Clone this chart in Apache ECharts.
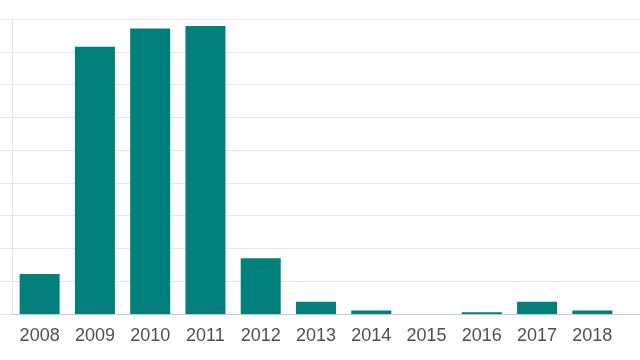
<!DOCTYPE html>
<html>
<head>
<meta charset="utf-8">
<script src="https://cdn.jsdelivr.net/npm/echarts@6/dist/echarts.min.js"></script>
<style>html,body{margin:0;padding:0;background:#fff}#c{width:640px;height:360px}</style>
</head>
<body>
<div id="c"></div>
<script>
const years = ['2008','2009','2010','2011','2012','2013','2014','2015','2016','2017','2018'];
const values = [12.2, 81.5, 87.1, 87.9, 17.0, 3.7, 1.1, 0, 0.5, 3.7, 1.1];
const yMax = 90;
const yStep = 10;

const chart = echarts.init(document.getElementById('c'), null, {renderer: 'canvas'});
const gridLine = {show: true, lineStyle: {color: '#e6e6e6', width: 1}};
chart.setOption({
  animation: false,
  backgroundColor: '#ffffff',
  grid: [
    {left: 12, right: 20, top: 19, bottom: 46},
    {left: 620, right: 0, top: 19, bottom: 46}
  ],
  xAxis: [
    {
      type: 'category', data: years, gridIndex: 0,
      axisLine: {show: true, lineStyle: {color: '#c8c8c8', width: 1}},
      axisTick: {show: false},
      axisLabel: {color: '#505050', fontSize: 18, fontFamily: 'Liberation Sans, Arial, sans-serif', margin: 13, interval: 0}
    },
    {
      type: 'category', data: [''], gridIndex: 1,
      axisLine: {show: true, lineStyle: {color: '#c8c8c8', width: 1}},
      axisTick: {show: false}, axisLabel: {show: false}
    }
  ],
  yAxis: [
    {
      type: 'value', min: 0, max: yMax, interval: yStep, gridIndex: 0,
      axisLine: {show: true, lineStyle: {color: '#e6e6e6', width: 1}},
      axisTick: {show: true, length: 12, lineStyle: {color: '#e6e6e6', width: 1}},
      axisLabel: {show: false},
      splitLine: gridLine
    },
    {
      type: 'value', min: 0, max: yMax, interval: yStep, gridIndex: 1,
      axisLine: {show: false}, axisTick: {show: false}, axisLabel: {show: false},
      splitLine: gridLine
    }
  ],
  series: [{
    type: 'bar', data: values, xAxisIndex: 0, yAxisIndex: 0,
    barWidth: 40,
    itemStyle: {color: '#007f7b'}
  }]
});
</script>
</body>
</html>
